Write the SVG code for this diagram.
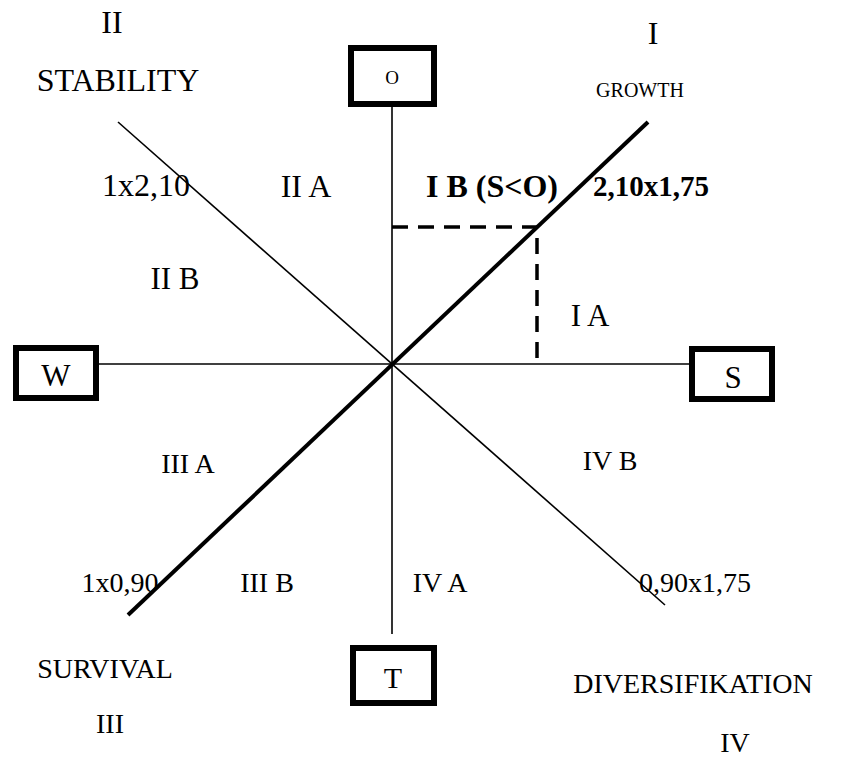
<svg xmlns="http://www.w3.org/2000/svg" width="850" height="765" viewBox="0 0 850 765">
<style>
.t{font-family:"Liberation Serif","Times New Roman",serif;font-size:28px;fill:#000;text-anchor:middle;dominant-baseline:central}
.u{font-size:32px}
.b{font-weight:bold}
.box{fill:#fff;stroke:#000;stroke-width:6}
.thin{stroke:#000;stroke-width:1.6;fill:none}
.thick{stroke:#000;stroke-width:4;fill:none}
.dash{stroke:#000;stroke-width:3.5;fill:none;stroke-dasharray:16 10}
</style>
<rect width="850" height="765" fill="#fff"/>
<g id="connectors">
<line class="thin" x1="392" y1="105" x2="392" y2="634"/>
<line class="thin" x1="99" y1="364" x2="689" y2="364"/>
<line class="thin" x1="118" y1="122" x2="665" y2="605"/>
<line class="thick" x1="128" y1="615" x2="648" y2="122"/>
<polyline class="dash" points="392,227 537,227 537,364"/>
</g>
<g id="node-O"><rect class="box" x="351" y="48" width="83" height="56"/><text class="t" x="392" y="77" style="font-size:19px">O</text></g>
<g id="node-W"><rect class="box" x="16" y="348" width="80" height="50"/><text class="t" x="56" y="375" style="font-size:31px">W</text></g>
<g id="node-S"><rect class="box" x="692" y="349" width="80" height="50"/><text class="t" x="733" y="377" style="font-size:31px">S</text></g>
<g id="node-T"><rect class="box" x="353" y="648" width="81" height="55"/><text class="t" x="393" y="677" style="font-size:30px">T</text></g>
<g id="labels">
<text class="t u" x="112" y="22">II</text>
<text class="t u" x="118" y="80">STABILITY</text>
<text class="t u" x="653" y="33">I</text>
<text class="t" x="640" y="90" style="font-size:20px">GROWTH</text>
<text class="t u" x="146" y="185">1x2,10</text>
<text class="t u" x="306" y="186">II A</text>
<text class="t b u" x="492" y="186">I B (S&lt;O)</text>
<text class="t b" x="651" y="186" style="font-size:29px">2,10x1,75</text>
<text class="t" x="175" y="278" style="font-size:31px">II B</text>
<text class="t" x="590" y="315" style="font-size:31px">I A</text>
<text class="t" x="188" y="463">III A</text>
<text class="t" x="610" y="460">IV B</text>
<text class="t" x="120" y="582">1x0,90</text>
<text class="t" x="267" y="582">III B</text>
<text class="t" x="440" y="582">IV A</text>
<text class="t" x="695" y="582">0,90x1,75</text>
<text class="t" x="105" y="668">SURVIVAL</text>
<text class="t" x="693" y="683">DIVERSIFIKATION</text>
<text class="t" x="110" y="723">III</text>
<text class="t" x="735" y="742">IV</text>
</g>
</svg>
